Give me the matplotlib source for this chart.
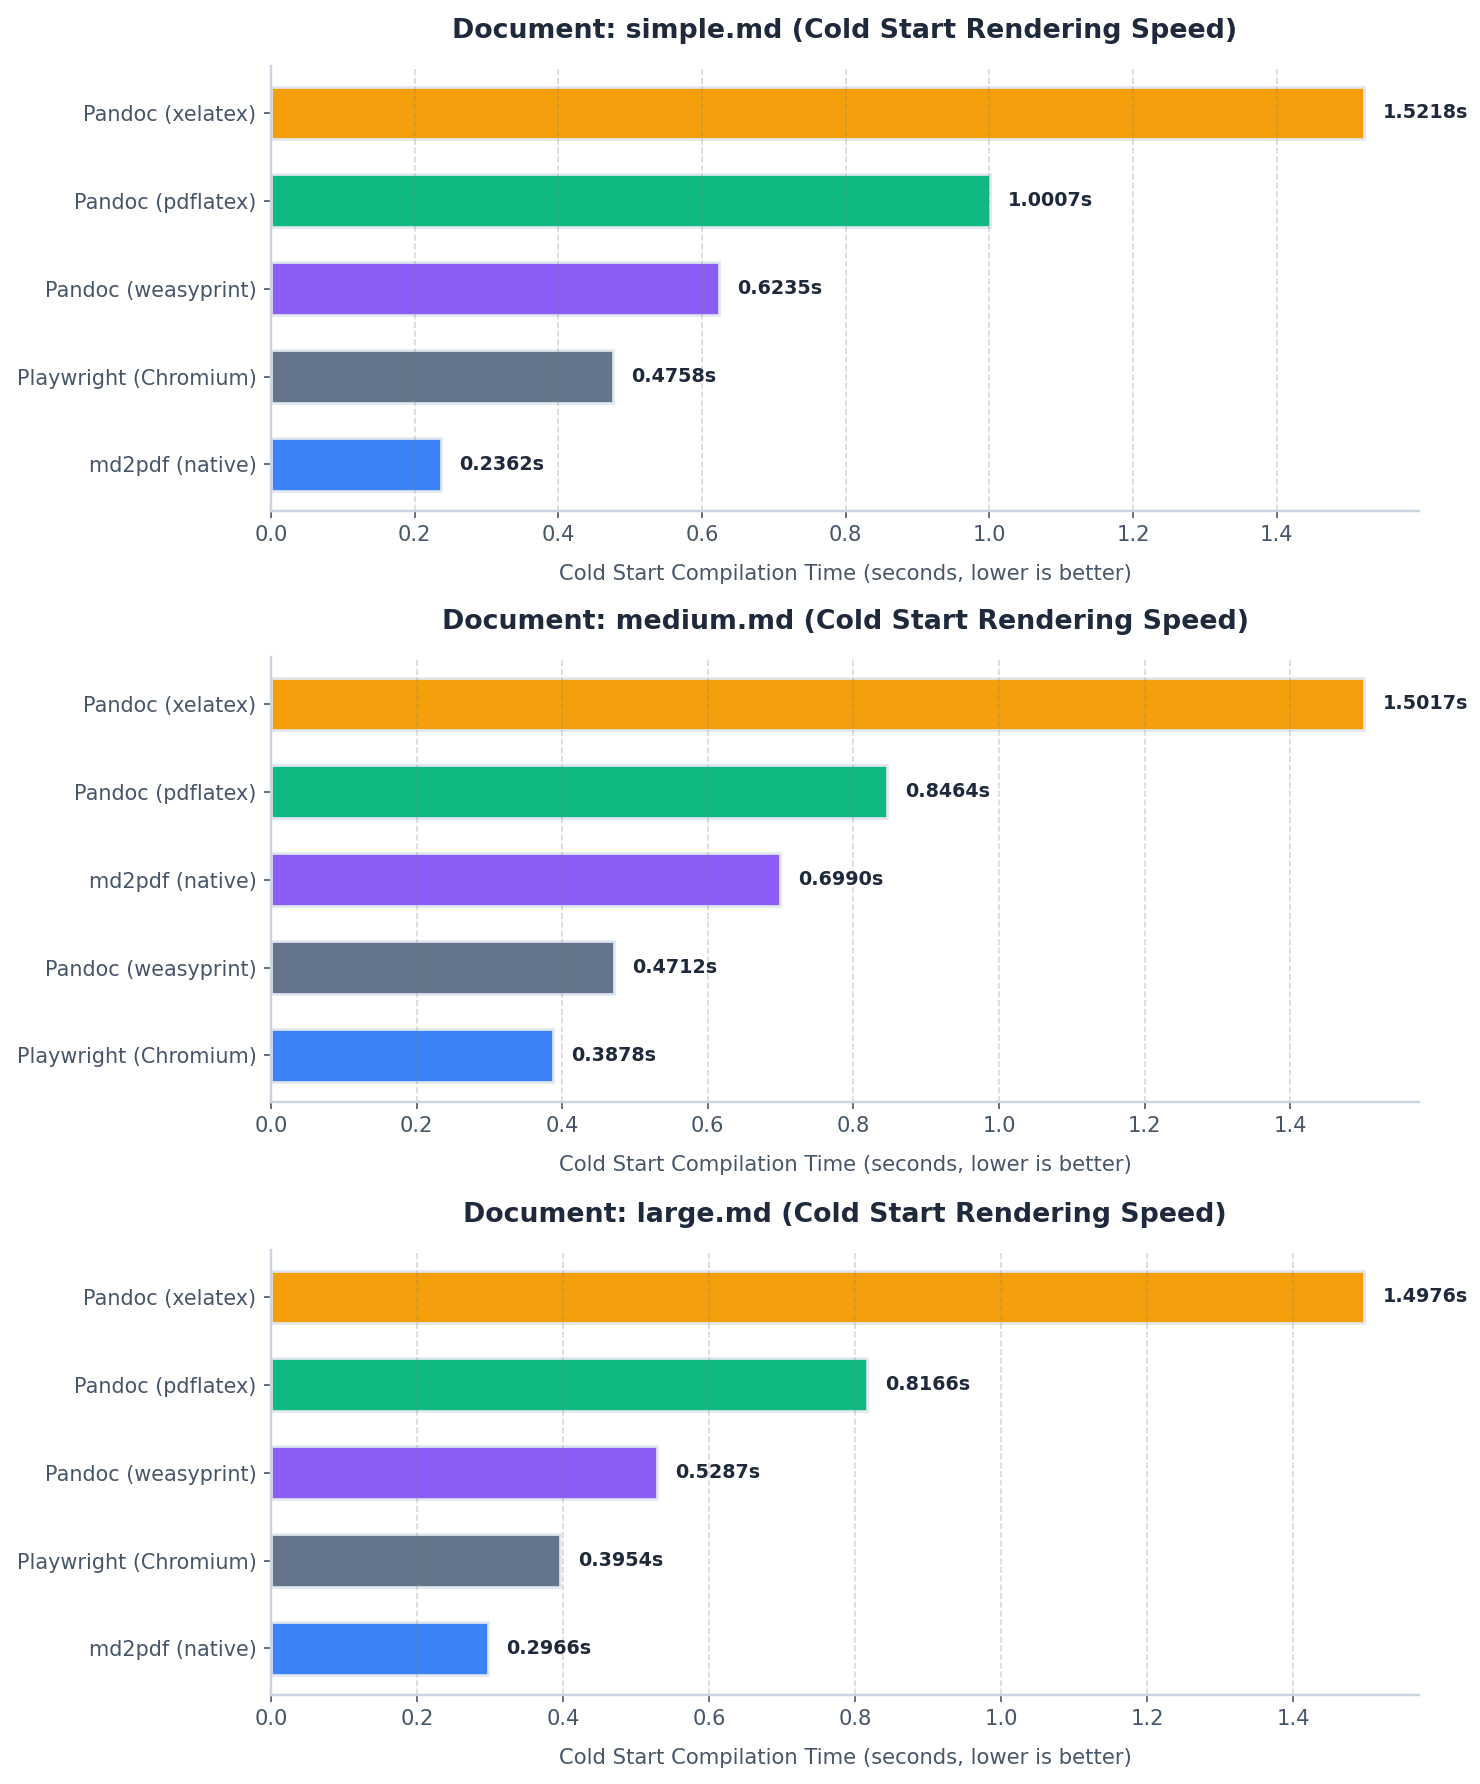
import matplotlib.pyplot as plt
import numpy as np

documents = ['simple.md', 'medium.md', 'large.md']

# tools listed top to bottom for each document (slowest first)
simple_tools = ['Pandoc (xelatex)', 'Pandoc (pdflatex)', 'Pandoc (weasyprint)',
                'Playwright (Chromium)', 'md2pdf (native)']
simple_times = [1.5218, 1.0007, 0.6235, 0.4758, 0.2362]

medium_tools = ['Pandoc (xelatex)', 'Pandoc (pdflatex)', 'md2pdf (native)',
                'Pandoc (weasyprint)', 'Playwright (Chromium)']
medium_times = [1.5017, 0.8464, 0.6990, 0.4712, 0.3878]

large_tools = ['Pandoc (xelatex)', 'Pandoc (pdflatex)', 'Pandoc (weasyprint)',
               'Playwright (Chromium)', 'md2pdf (native)']
large_times = [1.4976, 0.8166, 0.5287, 0.3954, 0.2966]

# colours by rank, top to bottom
rank_colors = ['#f59e0b', '#10b981', '#8b5cf6', '#64748b', '#3b82f6']

dark = '#1e293b'
muted = '#475569'
spine_c = '#cbd5e1'

fig = plt.figure(figsize=(10, 1784 / 148), dpi=148)

panels = [(simple_tools, simple_times), (medium_tools, medium_times), (large_tools, large_times)]
bottoms = [0.7136, 0.3823, 0.0499]

for doc, (tools, times), b in zip(documents, panels, bottoms):
    ax = fig.add_axes([0.1831, b, 0.7757, 0.2492])
    # plot from bottom (fastest) to top
    names = tools[::-1]
    vals = np.array(times[::-1])
    cols = rank_colors[::-1]
    y = np.arange(len(names))
    ax.barh(y, vals, height=0.6, color=cols, edgecolor='#e2e8f0', linewidth=1.3)
    ax.set_yticks(y)
    ax.set_yticklabels(names, fontsize=10.1, color=muted)
    for yi, v in zip(y, vals):
        ax.text(v + 0.025, yi, '{:.4f}s'.format(v), va='center', ha='left',
                fontsize=9.3, fontweight='bold', color=dark)
    ax.set_xlim(0, vals.max() * 1.05)
    ax.set_title('Document: {} (Cold Start Rendering Speed)'.format(doc),
                 fontsize=13, fontweight='bold', color=dark, pad=14)
    ax.set_xlabel('Cold Start Compilation Time (seconds, lower is better)',
                  fontsize=10.3, color=muted, labelpad=9)
    ax.tick_params(axis='x', labelsize=10.3, colors=muted)
    ax.tick_params(axis='y', colors=muted)
    ax.grid(axis='x', linestyle='--', color='gray', alpha=0.3)
    for s in ['top', 'right']:
        ax.spines[s].set_visible(False)
    for s in ['left', 'bottom']:
        ax.spines[s].set_color(spine_c)
        ax.spines[s].set_linewidth(1.2)

fig.savefig('out.png', dpi=148)
